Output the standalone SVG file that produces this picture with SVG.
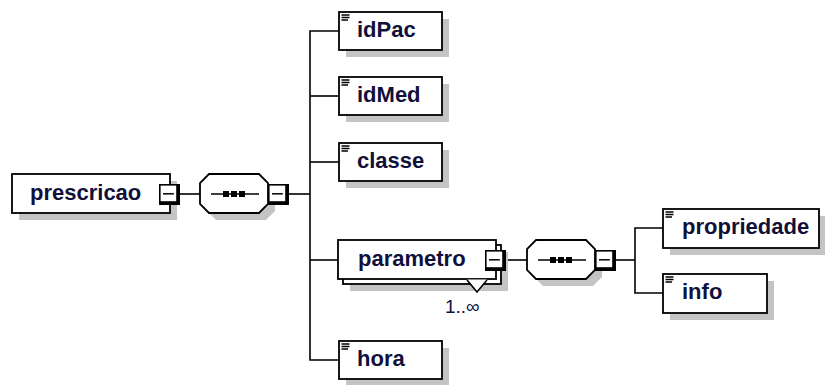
<svg xmlns="http://www.w3.org/2000/svg" xmlns:xlink="http://www.w3.org/1999/xlink" width="825" height="385" viewBox="0 0 825 385">
<style>
.box{fill:#fff;stroke:#000;stroke-width:1.8}
.shadow{fill:#c4c4c4;stroke:none}
.lbl{font-family:"Liberation Sans",Arial,sans-serif;font-weight:bold;font-size:22px;fill:#10103a}
.mult{font-family:"Liberation Sans",Arial,sans-serif;font-size:19px;fill:#10103a}
.conn{stroke:#000;stroke-width:1.6;fill:none}
.icon{stroke:#000;stroke-width:1.5}
</style>
<defs>
<g id="minus">
<rect x="0" y="0" width="21" height="21" fill="#000"/>
<rect x="1.6" y="1.6" width="15.6" height="15.6" fill="#fff"/>
<line x1="4" y1="9.8" x2="14.8" y2="9.8" stroke="#000" stroke-width="1.5"/>
</g>
<g id="doc">
<line x1="2.5" y1="3" x2="10.5" y2="3" class="icon"/>
<line x1="2.5" y1="5.5" x2="10.5" y2="5.5" class="icon"/>
<line x1="2.5" y1="8" x2="9" y2="8" class="icon"/>
</g>
<g id="seqdots">
<line x1="0" y1="0" x2="48" y2="0" stroke="#000" stroke-width="1.6"/>
<rect x="12" y="-3" width="6" height="6" fill="#000"/>
<rect x="20" y="-3" width="6" height="6" fill="#000"/>
<rect x="28" y="-3" width="6" height="6" fill="#000"/>
</g>
</defs>

<g id="connectors">
<line class="conn" x1="179" y1="194" x2="200" y2="194"/>
<line class="conn" x1="288" y1="194" x2="310" y2="194"/>
<polyline class="conn" points="339,31 310,31 310,360 339,360"/>
<line class="conn" x1="310" y1="96" x2="339" y2="96"/>
<line class="conn" x1="310" y1="162" x2="339" y2="162"/>
<line class="conn" x1="310" y1="260" x2="338" y2="260"/>
<line class="conn" x1="505" y1="260" x2="527" y2="260"/>
<line class="conn" x1="615" y1="260" x2="635" y2="260"/>
<polyline class="conn" points="663,228 635,228 635,293 663,293"/>
</g>

<g id="prescricao">
<rect class="shadow" x="19" y="181" width="158" height="39"/>
<rect class="box" x="12" y="174" width="158" height="39"/>
<text class="lbl" x="30" y="200">prescricao</text>
<use xlink:href="#minus" x="159" y="184"/>
</g>

<g id="seq1">
<polygon class="shadow" points="216,181 266,181 275,190 275,211 266,220 216,220 207,211 207,190"/>
<polygon class="box" points="209,174 259,174 268,183 268,204 259,213 209,213 200,204 200,183"/>
<use xlink:href="#seqdots" x="211" y="194"/>
<use xlink:href="#minus" x="268" y="184"/>
</g>

<g id="idPac">
<rect class="shadow" x="346" y="19" width="103" height="38"/>
<rect class="box" x="339" y="12" width="103" height="38"/>
<use xlink:href="#doc" x="339" y="12"/>
<text class="lbl" x="357" y="37">idPac</text>
</g>

<g id="idMed">
<rect class="shadow" x="346" y="84" width="103" height="38"/>
<rect class="box" x="339" y="77" width="103" height="38"/>
<use xlink:href="#doc" x="339" y="77"/>
<text class="lbl" x="357" y="102">idMed</text>
</g>

<g id="classe">
<rect class="shadow" x="346" y="150" width="103" height="38"/>
<rect class="box" x="339" y="143" width="103" height="38"/>
<use xlink:href="#doc" x="339" y="143"/>
<text class="lbl" x="357" y="168">classe</text>
</g>

<g id="parametro">
<rect class="shadow" x="350" y="252" width="158" height="39"/>
<rect class="box" x="343" y="245" width="158" height="39"/>
<rect class="box" x="338" y="240" width="158" height="39"/>
<polygon points="467,279.5 477,292 487,279.5" fill="#fff" stroke="none"/>
<polyline class="conn" points="467,280 477,292 487,280" stroke-width="1.2"/>
<text class="lbl" x="358" y="266">parametro</text>
<use xlink:href="#minus" x="485" y="250"/>
<text class="mult" x="445" y="313">1..∞</text>
</g>

<g id="seq2">
<polygon class="shadow" points="543,247 593,247 602,256 602,277 593,286 543,286 534,277 534,256"/>
<polygon class="box" points="536,240 586,240 595,249 595,270 586,279 536,279 527,270 527,249"/>
<use xlink:href="#seqdots" x="538" y="260"/>
<use xlink:href="#minus" x="595" y="250"/>
</g>

<g id="hora">
<rect class="shadow" x="346" y="348" width="103" height="38"/>
<rect class="box" x="339" y="341" width="103" height="38"/>
<use xlink:href="#doc" x="339" y="341"/>
<text class="lbl" x="357" y="366">hora</text>
</g>

<g id="propriedade">
<rect class="shadow" x="670" y="216" width="156" height="39"/>
<rect class="box" x="663" y="209" width="156" height="39"/>
<use xlink:href="#doc" x="663" y="209"/>
<text class="lbl" x="682" y="234">propriedade</text>
</g>

<g id="info">
<rect class="shadow" x="670" y="281" width="104" height="39"/>
<rect class="box" x="663" y="274" width="104" height="39"/>
<use xlink:href="#doc" x="663" y="274"/>
<text class="lbl" x="682" y="299">info</text>
</g>
</svg>
